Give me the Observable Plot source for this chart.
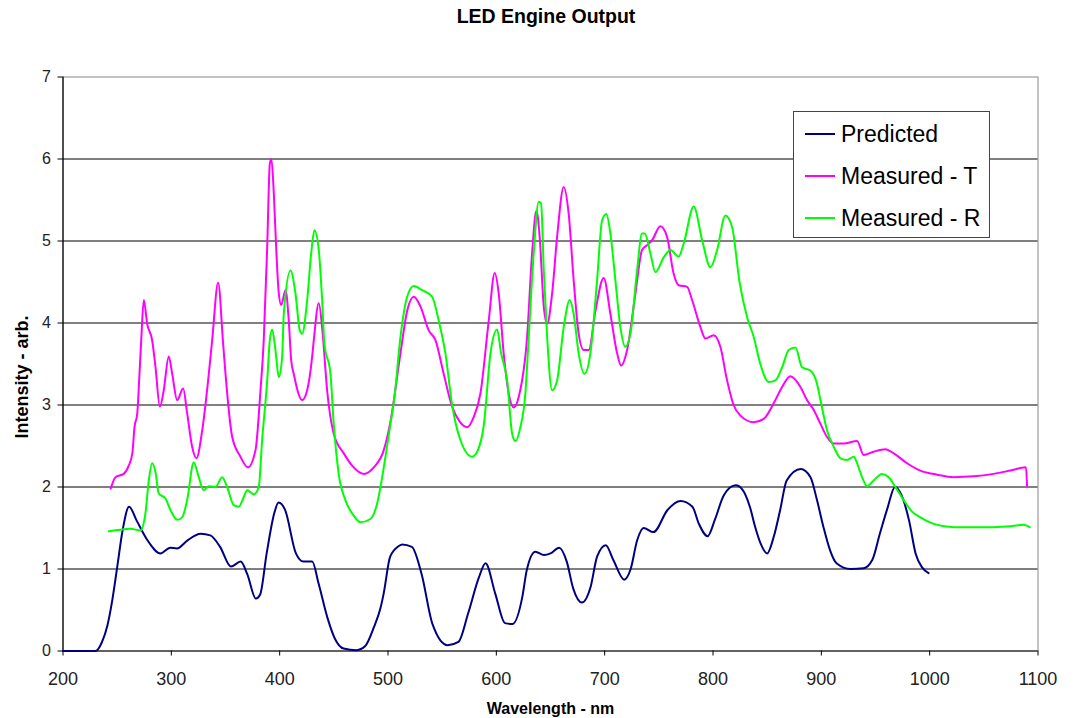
<!DOCTYPE html>
<html>
<head>
<meta charset="utf-8">
<script src="https://cdn.jsdelivr.net/npm/d3@7"></script>
<script src="https://cdn.jsdelivr.net/npm/@observablehq/plot@0.6"></script>
<style>
  html, body { margin: 0; padding: 0; background: #fff; }
  #wrap { position: relative; width: 1078px; height: 718px; font-family: "Liberation Sans", Arial, sans-serif; }
  #wrap svg { position: absolute; left: 0; top: 0; z-index: 1; }
  #title { position: absolute; z-index: 3; left: 0; width: 1092px; top: 5px; text-align: center; font-weight: bold; font-size: 19.5px; color: #000; }
  #legend { position: absolute; z-index: 3; left: 793px; top: 111px; width: 195px; height: 125px; border: 1.5px solid #444; background: #fff; }
  .row { position: absolute; left: 0; height: 30px; display: flex; align-items: center; }
  .sw { width: 30px; height: 2px; margin-left: 11px; margin-right: 6px; }
  .lab { font-size: 23px; color: #000; }
</style>
</head>
<body>
<div id="wrap">
  <div id="title">LED Engine Output</div>
</div>
<script>
const seriesNames = ["Predicted", "Measured - T", "Measured - R"];
const seriesColors = ["#000080", "#ff00ff", "#00ff00"];
const xTicks = [200, 300, 400, 500, 600, 700, 800, 900, 1000, 1100];
const yTicks = [0, 1, 2, 3, 4, 5, 6, 7];
const gridTicks = [1, 2, 3, 4, 5, 6];

// Predicted
const predWl = [200,230,236,241,245,250,255,261,268,278,290,299,305,315,327,336,345,355,364,370,378,382,388,395,399,405,415,422,430,436,444,451,459,471,479,487,493,496,502,510,513,522,531,541,555,565,574,584,590,599,608,615,624,628,636,644,650,658,665,671,679,687,693,701,708,718,724,730,736,745,758,770,781,787,795,802,810,821,827,834,839,844,850,856,862,868,881,890,896,902,908,914,927,939,947,954,961,968,974,981,987,993,999];
const predVal = [0,0,0.11,0.31,0.58,1.02,1.47,1.76,1.59,1.35,1.19,1.26,1.25,1.35,1.43,1.41,1.27,1.03,1.09,0.94,0.64,0.69,1.19,1.68,1.81,1.72,1.19,1.09,1.09,0.82,0.41,0.15,0.03,0.01,0.06,0.29,0.52,0.70,1.15,1.28,1.30,1.27,0.94,0.33,0.07,0.11,0.46,0.90,1.07,0.70,0.34,0.33,0.66,0.98,1.21,1.17,1.19,1.26,1.09,0.76,0.59,0.78,1.15,1.29,1.11,0.87,1.00,1.35,1.50,1.45,1.72,1.83,1.76,1.55,1.40,1.61,1.90,2.02,1.97,1.76,1.51,1.31,1.19,1.39,1.72,2.08,2.22,2.12,1.84,1.51,1.23,1.07,1.00,1.01,1.11,1.43,1.74,2.00,1.90,1.59,1.19,1.02,0.95];

// Measured - T
const tWl = [244,248.5,256,260.7,264,266,268.5,270.6,272.2,274.6,277.7,282.3,285.4,289.4,293,297.6,300.8,305.4,310.9,314.6,319.2,323.2,328.5,334.6,337.7,343.2,347.8,350,356.2,363.8,370.6,377.7,382.3,385.3,388.5,390.9,392.4,394.6,397,399.2,401.4,405.4,408.4,410.6,413,420.8,425.4,430,431.5,436.1,439.5,443.8,449.9,459.2,466.9,477.6,486.9,496.1,502.3,511.5,517.7,523.8,530,537.6,543.8,551.4,559.2,566,573,579,585.3,593,598.5,602.2,606.8,611.4,616,620.7,628.4,633,637,640,643.8,646.9,651.5,656.1,662.2,666.8,671.4,676,680.6,685.3,691.5,699.1,705.3,711.5,715.2,720.7,728.4,734.5,739.2,743.8,751.4,757.6,763.7,768.3,776.1,780.7,788.4,793,800.6,806.8,813,819,825.3,837.6,846.8,856,863.8,871.4,880.7,886.8,893,899.2,905.3,911.5,920.7,933,939.1,948.3,959.1,966.8,979.1,991.4,1006.8,1022.2,1040.6,1059,1074.5,1088.9,1089.9];
const tVal = [1.98,2.12,2.16,2.26,2.41,2.73,2.89,3.38,3.79,4.28,3.99,3.79,3.46,2.98,3.18,3.59,3.38,3.06,3.20,2.90,2.49,2.35,2.69,3.38,3.79,4.49,3.75,3.38,2.61,2.37,2.24,2.45,3.18,3.79,4.93,5.94,6.00,5.58,4.85,4.36,4.22,4.40,4.03,3.55,3.38,3.06,3.18,3.59,3.79,4.24,3.90,3.18,2.65,2.41,2.26,2.16,2.24,2.45,2.80,3.63,4.15,4.32,4.20,3.91,3.79,3.38,2.98,2.80,2.73,2.85,3.14,4.03,4.61,4.36,3.63,3.14,2.97,3.10,3.83,4.85,5.37,5.05,4.20,3.99,4.36,5.05,5.66,5.33,4.52,3.87,3.67,3.67,4.15,4.55,4.11,3.63,3.48,3.67,4.36,4.89,4.95,5.01,5.18,5.05,4.60,4.46,4.44,4.28,3.95,3.81,3.85,3.71,3.30,3.00,2.87,2.79,2.83,3.02,3.22,3.35,3.22,3.06,2.94,2.77,2.61,2.53,2.53,2.56,2.39,2.43,2.46,2.41,2.29,2.20,2.15,2.12,2.13,2.16,2.20,2.24,2.01];

// Measured - R
const rWl = [242.3,253,262.3,271.5,276.1,279.2,282.3,285.4,288.4,294.6,299.2,305.4,310,314.6,320.7,325.3,329.9,334.6,340.7,346.9,351.5,357.6,362.3,366.9,370,376.1,380.7,383.8,388.5,390.9,393.1,396.1,399.2,402.3,403.8,410,414.6,418.6,420.8,425.4,429.1,432.1,436.1,439.2,441.3,446.9,449.9,454.5,460.7,468.4,474.6,483.8,490,496.1,502.3,506,511.5,517.7,523.8,531.5,540.7,546.8,553,559.2,566.9,577.7,583,588.4,594.6,600.7,604.4,610,614.6,617.6,622.2,626.8,629.9,634.5,639.1,641.3,643.8,646.9,651.5,656.1,662.2,667.8,671.4,676,681.3,686.8,693,697.6,701.6,705.3,709.9,714.5,719.1,723.8,729.9,734.5,737,742.2,746.8,754.5,760.7,768.3,773,782.2,790,797.6,803.8,811.4,817.6,824.5,831.5,837.6,843.7,851.4,857.6,863.8,869.9,876.1,882.2,889.9,896,899.2,905.3,911.5,917.7,923.8,929.9,933,937.6,942.2,948.3,956.1,962.2,968.4,976,983.8,991.4,1003.7,1022.2,1040.6,1059,1074.5,1086.8,1092.3];
const rVal = [1.46,1.48,1.49,1.47,1.68,2.08,2.29,2.18,1.92,1.86,1.72,1.60,1.63,1.84,2.30,2.12,1.96,2.01,2.00,2.12,2.00,1.78,1.76,1.88,1.96,1.91,2.00,2.57,3.30,3.79,3.92,3.67,3.34,3.59,4.11,4.64,4.36,3.91,3.87,4.28,4.85,5.13,4.89,4.28,3.75,3.38,2.77,2.16,1.84,1.65,1.57,1.61,1.80,2.24,2.77,3.10,3.83,4.32,4.45,4.40,4.32,4.03,3.63,3.00,2.57,2.37,2.45,2.75,3.63,3.92,3.63,3.30,2.65,2.56,2.73,3.14,3.83,4.85,5.48,5.46,4.64,3.83,3.18,3.30,3.95,4.28,4.11,3.63,3.38,3.63,4.52,5.25,5.33,5.09,4.52,3.95,3.71,3.87,4.64,5.09,5.09,4.85,4.62,4.80,4.89,4.81,4.97,5.42,5.01,4.68,4.89,5.31,5.17,4.50,4.07,3.83,3.50,3.28,3.30,3.46,3.67,3.70,3.46,3.42,3.26,3.06,2.69,2.49,2.35,2.33,2.37,2.29,2.12,2.01,2.08,2.16,2.12,2.00,1.84,1.70,1.63,1.55,1.51,1.51,1.51,1.52,1.54,1.51];

const rows = [];
[[predWl, predVal], [tWl, tVal], [rWl, rVal]].forEach(([wl, val], i) => {
  wl.forEach((w, j) => rows.push({wl: w, val: val[j], series: seriesNames[i]}));
});

const font = "'Liberation Sans', Arial, sans-serif";

const chart = Plot.plot({
  width: 1078,
  height: 718,
  marginLeft: 62.5,
  marginRight: 40.5,
  marginTop: 76.5,
  marginBottom: 67.5,
  style: {fontFamily: font, color: "#000", background: "transparent", overflow: "visible"},
  x: {domain: [200, 1100]},
  y: {domain: [0, 7]},
  color: {domain: seriesNames, range: seriesColors},
  marks: [
    Plot.frame({stroke: "#888", strokeWidth: 1}),
    Plot.gridY(gridTicks, {stroke: "#000", strokeOpacity: 1, strokeWidth: 1}),
    Plot.ruleX([200], {stroke: "#000", strokeWidth: 1.2}),
    Plot.ruleY([0], {stroke: "#000", strokeWidth: 1.2}),
    Plot.axisX({ticks: xTicks, tickSize: 5, tickPadding: 16, fontSize: 18, label: null, stroke: "#000", fill: "#222", tickFormat: d => String(d)}),
    Plot.axisY({ticks: yTicks, tickSize: 5, tickPadding: 7, fontSize: 16, label: null, stroke: "#000", fill: "#222", tickFormat: d => String(d)}),
    Plot.line(rows, {x: "wl", y: "val", z: "series", stroke: "series", strokeWidth: 2, curve: "monotone-x"}),
    Plot.text(["Wavelength - nm"], {frameAnchor: "bottom", textAnchor: "middle", lineAnchor: "middle", dy: 58, fontSize: 16, fontWeight: "bold", fill: "#000"}),
    Plot.text(["Intensity - arb."], {frameAnchor: "left", textAnchor: "middle", lineAnchor: "middle", dx: -40.5, dy: 13, rotate: -90, fontSize: 18, fontWeight: "bold", fill: "#000"})
  ]
});
document.getElementById("wrap").appendChild(chart);

// Legend
const legend = document.createElement("div");
legend.id = "legend";
seriesNames.forEach((name, i) => {
  const row = document.createElement("div");
  row.className = "row";
  row.style.top = (7 + i * 42) + "px";
  const sw = document.createElement("div");
  sw.className = "sw";
  sw.style.background = seriesColors[i];
  const lab = document.createElement("span");
  lab.className = "lab";
  lab.textContent = name;
  row.appendChild(sw);
  row.appendChild(lab);
  legend.appendChild(row);
});
document.getElementById("wrap").appendChild(legend);
</script>
</body>
</html>
